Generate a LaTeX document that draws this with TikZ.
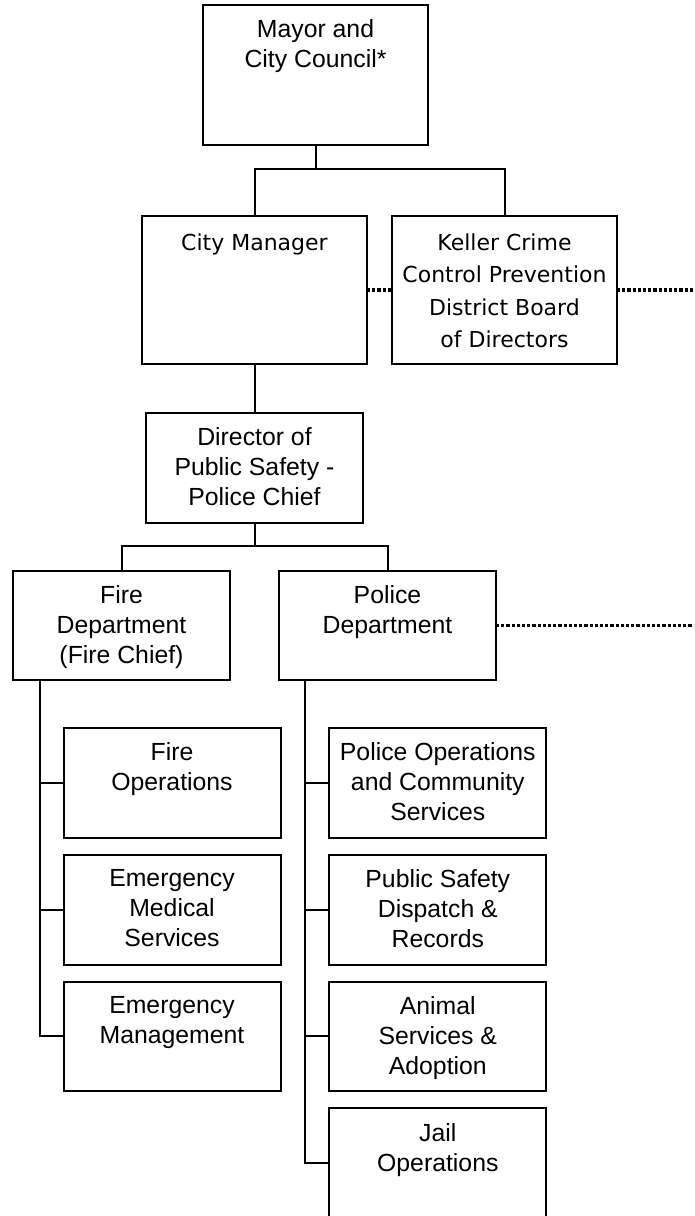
\documentclass[tikz,border=0pt]{standalone}
\usepackage{fontspec}
\setmainfont{Liberation Sans}
\newfontfamily\tahomafont{DejaVu Sans}
\tikzset{
  orgbox/.style={draw, line width=2pt, anchor=north west, inner sep=0pt, outer sep=0pt,
    minimum width=217pt, minimum height=109.5pt},
  txt/.style={anchor=north, align=center, inner sep=0pt, font=\fontsize{24.8}{30}\selectfont},
  tahtxt/.style={anchor=north, align=center, inner sep=0pt, font=\tahomafont\fontsize{22}{32.4}\selectfont},
  conn/.style={line width=2pt},
  dotline/.style={line width=3.5pt, dash pattern=on 3.2pt off 2pt}
}

\begin{document}
\begin{tikzpicture}[x=1pt, y=-1pt]

  \useasboundingbox (0, 0) rectangle (694, 1216);
  \clip (0, 0) rectangle (694, 1216);

  % council, manager and board
  \node[orgbox, minimum width=225pt, minimum height=140pt] (mayor) at (203, 5) {};
  \node[txt] (mayortext) at ([yshift=-14.5pt]mayor.north) {Mayor and\\City Council*};

  \node[orgbox, minimum width=225pt, minimum height=148pt] (manager) at (142, 216) {};
  \node[tahtxt] (managertext) at ([yshift=-17.5pt]manager.north) {City Manager};

  \node[orgbox, minimum width=225pt, minimum height=148pt] (board) at (392, 216) {};
  \node[tahtxt] (boardtext) at ([yshift=-17.5pt]board.north)
    {Keller Crime\\Control Prevention\\District Board\\of Directors};

  \draw[conn] (mayor.south) -- ++(0, 24) coordinate (topbus);
  \draw[conn] (manager.north) |- (topbus) -| (board.north);

  \coordinate (boardend) at (694, 290);
  \draw[dotline] (manager.east) -- (board.west);
  \draw[dotline] (board.east) -- (boardend);

  % public safety
  \node[orgbox, minimum height=110pt] (director) at (146, 413) {};
  \node[txt] (directortext) at ([yshift=-14.5pt]director.north)
    {Director of\\Public Safety -\\Police Chief};
  \draw[conn] (manager.south) -- (director.north);

  \node[orgbox, minimum height=109pt] (fire) at (13, 571) {};
  \node[txt] (firetext) at ([yshift=-14.5pt]fire.north) {Fire\\Department\\(Fire Chief)};

  \node[orgbox, minimum height=109pt] (police) at (279, 571) {};
  \node[txt] (policetext) at ([yshift=-14.5pt]police.north) {Police\\Department};

  \draw[conn] (director.south) -- ++(0, 23) coordinate (midbus);
  \draw[conn] (fire.north) |- (midbus) -| (police.north);

  \coordinate (policeend) at (694, 625.5);
  \draw[dotline] (police.east) -- (policeend);

  % fire divisions
  \node[orgbox] (fireops) at (63.5, 728.3) {};
  \node[txt] (fireopstext) at ([yshift=-14.5pt]fireops.north) {Fire\\Operations};
  \node[orgbox] (ems) at (63.5, 855) {};
  \node[txt] (emstext) at ([yshift=-14.5pt]ems.north) {Emergency\\Medical\\Services};
  \node[orgbox] (emgmt) at (63.5, 981.7) {};
  \node[txt] (emgmttext) at ([yshift=-14.5pt]emgmt.north) {Emergency\\Management};

  \coordinate (firespine) at ([xshift=26.5pt]fire.south west);
  \draw[conn] (firespine) |- (fireops.west);
  \draw[conn] (firespine) |- (ems.west);
  \draw[conn] (firespine) |- (emgmt.west);

  % police divisions
  \node[orgbox] (policeops) at (329.3, 728.3) {};
  \node[txt] (policeopstext) at ([yshift=-14.5pt]policeops.north)
    {Police Operations\\and Community\\Services};
  \node[orgbox] (dispatch) at (329.3, 855) {};
  \node[txt] (dispatchtext) at ([yshift=-14.5pt]dispatch.north)
    {Public Safety\\Dispatch \&\\Records};
  \node[orgbox] (animal) at (329.3, 981.7) {};
  \node[txt] (animaltext) at ([yshift=-14.5pt]animal.north)
    {Animal\\Services \&\\Adoption};
  \node[orgbox] (jail) at (329.3, 1108.4) {};
  \node[txt] (jailtext) at ([yshift=-14.5pt]jail.north) {Jail\\Operations};

  \coordinate (policespine) at ([xshift=26pt]police.south west);
  \draw[conn] (policespine) |- (policeops.west);
  \draw[conn] (policespine) |- (dispatch.west);
  \draw[conn] (policespine) |- (animal.west);
  \draw[conn] (policespine) |- (jail.west);

\end{tikzpicture}
\end{document}
